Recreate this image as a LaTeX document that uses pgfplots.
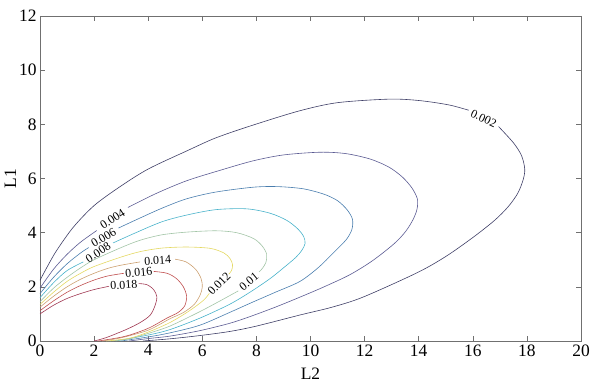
\documentclass[border=0pt]{standalone}
\usepackage{pgfplots}
\pgfplotsset{compat=1.18}
\usepackage{fontspec}
\setmainfont{Liberation Serif}
\usetikzlibrary{calc}
\definecolor{c02}{HTML}{3E3E66}
\definecolor{c04}{HTML}{5A5A92}
\definecolor{c06}{HTML}{4A7EAE}
\definecolor{c08}{HTML}{48B2CA}
\definecolor{c10}{HTML}{A2C4A6}
\definecolor{c12}{HTML}{E4D862}
\definecolor{c14}{HTML}{CCA070}
\definecolor{c16}{HTML}{C05050}
\definecolor{c18}{HTML}{A03852}
\definecolor{axgray}{HTML}{707070}
\begin{document}
\begin{tikzpicture}
\begin{axis}[
  name=ax,
  scale only axis,
  width=541bp, height=325bp,
  xmin=0, xmax=20, ymin=0, ymax=12,
  xtick={0,2,...,20}, ytick={0,2,...,12},
  tick align=inside,
  major tick length=5bp,
  axis line style={axgray, line width=0.7pt},
  every tick/.style={axgray, line width=0.6pt},
  /pgf/number format/assume math mode=true,
  tick label style={font=\fontsize{17.5}{18}\selectfont},
  label style={font=\fontsize{17.5}{18}\selectfont},
  xlabel={L2}, ylabel={L1},
  xlabel style={yshift=-5bp},
  ylabel style={yshift=-4bp},
  every axis plot/.append style={line width=0.6pt, no marks, smooth},
]
% 0.002
\addplot[c02] coordinates {(0,2.24)(0.3,2.8)(0.62,3.35)(1.23,4.2)(2.0,5.0)(2.96,5.7)(4,6.35)(5.43,7.02)(6.5,7.5)(7.87,7.97)(9.6,8.5)(11,8.8)(12.9,8.93)(14,8.88)(15.1,8.72)(15.85,8.52)};
\addplot[c02] coordinates {(16.95,7.92)(17.5,7.32)(17.8,6.85)(17.92,6.35)(17.86,5.95)(17.66,5.45)(17.3,4.95)(16.8,4.45)(16,3.82)(15,3.12)(13.94,2.52)(11.94,1.62)(10.8,1.25)(9.61,0.96)(8,0.55)(7,0.35)(5.9,0.2)(4.8,0.08)(3.8,0)};
% 0.004
\addplot[c04] coordinates {(0,1.95)(0.5,2.65)(1,3.2)(1.5,3.65)(2.1,4.08)};
\addplot[c04] coordinates {(3.25,4.93)(4.3,5.45)(5.43,5.92)(6.65,6.3)(7.87,6.65)(9,6.87)(10.35,6.97)(11.3,6.92)(12.2,6.72)(12.9,6.42)(13.4,6.05)(13.75,5.65)(13.95,5.25)(13.94,4.88)(13.8,4.5)(13.52,4.05)(13.1,3.6)(12.3,2.97)(11.46,2.45)(10.5,2.0)(9.61,1.62)(8.7,1.25)(7.76,0.9)(7,0.65)(5.9,0.38)(4.8,0.18)(4,0.09)(3.3,0)};
% 0.006
\addplot[c06] coordinates {(0,1.75)(0.5,2.35)(1,2.85)(1.5,3.25)(1.8,3.45)};
\addplot[c06] coordinates {(2.9,4.17)(3.5,4.45)(4.5,4.9)(5.42,5.25)(6.5,5.5)(7.9,5.68)(8.8,5.7)(9.73,5.62)(10.5,5.42)(11.0,5.18)(11.35,4.85)(11.55,4.5)(11.53,4.12)(11.32,3.74)(10.84,3.25)(10.3,2.72)(9.61,2.2)(8.7,1.8)(7.76,1.39)(7,1.05)(5.9,0.58)(4.8,0.3)(4,0.15)(3.0,0)};
% 0.008
\addplot[c08] coordinates {(0,1.6)(0.5,2.15)(1,2.6)(1.6,2.92)};
\addplot[c08] coordinates {(2.7,3.62)(3.5,3.98)(4.5,4.4)(5.42,4.65)(6.5,4.85)(7.64,4.88)(8.5,4.72)(9.13,4.45)(9.55,4.12)(9.75,3.85)(9.8,3.6)(9.68,3.35)(9.45,3.08)(9.0,2.7)(8.5,2.3)(7.76,1.8)(7,1.35)(5.9,0.84)(4.8,0.42)(4,0.22)(2.8,0)};
% 0.010
\addplot[c10] coordinates {(0,1.45)(0.5,1.95)(1,2.35)(1.5,2.7)(2,3.0)(3,3.45)(3.7,3.72)(4.5,3.92)(5.42,4.02)(6.5,4.07)(7.27,4.0)(7.9,3.78)(8.22,3.5)(8.38,3.2)(8.35,2.9)(8.22,2.68)(8.1,2.55)};
\addplot[c10] coordinates {(7.33,1.85)(6.6,1.45)(5.9,1.08)(4.8,0.55)(4,0.28)(3.3,0.08)(2.6,0)};
% 0.012
\addplot[c12] coordinates {(0,1.35)(0.5,1.8)(1,2.2)(1.5,2.5)(2,2.75)(3,3.1)(3.7,3.3)(4.5,3.43)(5.42,3.47)(6.3,3.42)(6.8,3.25)(7.02,3.05)(7.12,2.82)(7.08,2.6)(6.98,2.47)};
\addplot[c12] coordinates {(6.26,1.76)(6.04,1.5)(5.5,1.1)(4.8,0.68)(4,0.33)(3.3,0.1)(2.45,0)};
% 0.014
\addplot[c14] coordinates {(0,1.25)(0.5,1.65)(1,2.0)(1.5,2.28)(2,2.5)(2.5,2.68)(3,2.8)(3.7,2.92)};
\addplot[c14] coordinates {(5.0,3.02)(5.4,2.92)(5.75,2.65)(5.95,2.32)(6.0,2.0)(5.92,1.7)(5.7,1.35)(5.3,1.05)(4.8,0.82)(4,0.4)(3,0.12)(2.3,0)};
% 0.016
\addplot[c16] coordinates {(0,1.12)(0.5,1.48)(1,1.8)(1.5,2.05)(2,2.25)(2.5,2.4)(3.1,2.5)};
\addplot[c16] coordinates {(4.2,2.57)(4.7,2.5)(5.05,2.3)(5.3,2.0)(5.42,1.65)(5.35,1.3)(5.1,1.05)(4.7,0.85)(4.07,0.5)(3.5,0.28)(3.0,0.14)(2.15,0)};
% 0.018
\addplot[c18] coordinates {(0,1.0)(0.5,1.32)(1,1.57)(1.5,1.75)(2,1.9)(2.55,2.02)};
\addplot[c18] coordinates {(3.65,2.12)(3.95,2.08)(4.2,1.9)(4.32,1.63)(4.25,1.3)(4.07,0.95)(3.7,0.68)(3.2,0.43)(2.46,0.13)(2.0,0)};
% labels
\begin{scope}[every node/.style={font=\fontsize{12}{12}\selectfont, inner sep=0pt}]
\node[rotate=-25] at (axis cs:16.4,8.22) {0.002};
\node[rotate=33] at (axis cs:2.68,4.5) {0.004};
\node[rotate=31] at (axis cs:2.35,3.82) {0.006};
\node[rotate=33] at (axis cs:2.15,3.27) {0.008};
\node[rotate=40] at (axis cs:7.72,2.2) {0.01};
\node[rotate=45] at (axis cs:6.62,2.12) {0.012};
\node[rotate=4] at (axis cs:4.35,2.97) {0.014};
\node[rotate=5] at (axis cs:3.65,2.53) {0.016};
\node[rotate=4] at (axis cs:3.1,2.07) {0.018};
\end{scope}
\end{axis}
\pgfresetboundingbox
\path[use as bounding box] ($(ax.south west)+(-40bp,-44bp)$) rectangle ($(ax.north east)+(10bp,16bp)$);
\end{tikzpicture}
\end{document}
